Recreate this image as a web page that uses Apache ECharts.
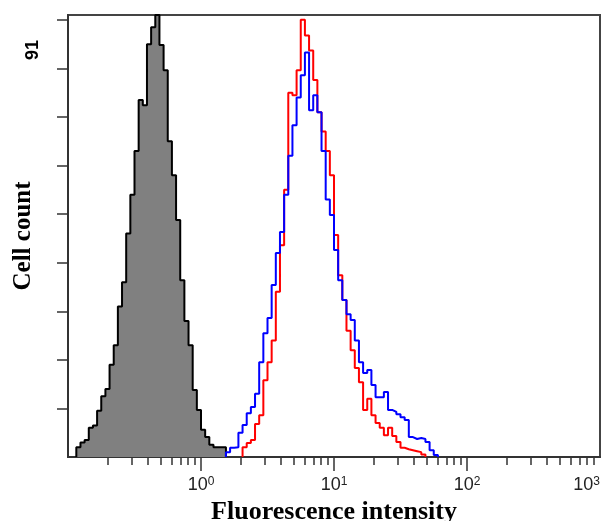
<!DOCTYPE html>
<html>
<head>
<meta charset="utf-8">
<script src="https://cdn.jsdelivr.net/npm/echarts@6/dist/echarts.min.js"></script>
<style>html,body{margin:0;padding:0;background:#fff}#c{width:603px;height:521px}</style>
</head>
<body>
<div id="c"></div>
<script>
// Histogram bins: width in decades and the exponent of the left edge of bin 0
const binWidth = 1 / 32;
const binStartExp = -0.9375;

// Gray (control) histogram, starts at bin 0
const grayStartBin = 0;
const grayCounts = [2, 3, 3.5, 6, 6.5, 9.5, 12.5, 14, 19, 23, 31, 36, 46, 54, 63, 73.5, 72.4, 85, 88.5, 91,
  84.8, 79.6, 65, 58, 48.8, 36.4, 28, 23, 13.8, 9.7, 5.6, 4.1, 2.5, 2, 2, 2];

// Red histogram, starts at bin 40
const redStartBin = 40;
const redCounts = [2, 2.9, 3.5, 6.8, 8.6, 15.8, 19.5, 24, 34, 43.6, 55, 75, 74.5, 79.6, 90, 86.8, 83.7, 77.6, 71, 67,
  63, 58, 45.7, 37.4, 32.3, 26, 22, 18.3, 15.4, 9.7, 12, 8.6, 7, 6, 4.5, 6, 4.3, 3.1, 1.9, 1.6, 1.4, 1.2, 1, 0.5];

// Blue histogram, starts at bin 36
const blueStartBin = 36;
const blueCounts = [1, 1.9, 2, 5, 6.6, 9, 10.3, 13, 19.5, 25.5, 28.6, 35.4, 42, 46.3, 54, 62, 68.3, 74, 78.6, 83.3,
  71.4, 74.5, 71, 63, 53, 49.8, 42.6, 36.4, 32.3, 29.4, 28.2, 24, 19.5, 17.3, 17.9, 14.8, 12.3, 12.3, 13.4, 9.7,
  9.3, 8.8, 8.2, 7.6, 4.1, 3.7, 3.9, 3.7, 3.1, 1.4, 0.4];

// Axes
const xMin = 0.1, xMax = 1000;
const yMin = 0, yMax = 91;
const xMajorTicks = [1, 10, 100];
const xLabelValues = [1, 10, 100, 1000];
const xMinorTicks = [];
[0.1, 1, 10, 100].forEach(d => { for (let k = 2; k <= 9; k++) xMinorTicks.push(d * k); });
const yTicks = [10, 20, 30, 40, 50, 60, 70, 80, 90];
const yMaxLabel = '91';

function toSteps(startBin, counts) {
  const e0 = binStartExp + startBin * binWidth;
  const pts = [[Math.pow(10, e0), 0]];
  counts.forEach((c, i) => pts.push([Math.pow(10, e0 + i * binWidth), c]));
  pts.push([Math.pow(10, e0 + counts.length * binWidth), 0]);
  return pts;
}

const chart = echarts.init(document.getElementById('c'), null, {renderer: 'canvas'});
const axisColor = '#333';
chart.setOption({
  animation: false,
  grid: {left: 68, right: 3, top: 15, bottom: 64, show: true, borderColor: '#444', borderWidth: 2,
    containLabel: false, outerBoundsMode: 'none'},
  xAxis: [{
    type: 'log', logBase: 10, min: xMin, max: xMax, position: 'bottom', offset: 0,
    axisLine: {show: true, lineStyle: {color: axisColor, width: 2}},
    axisTick: {show: true, length: 14, customValues: xMajorTicks, lineStyle: {color: axisColor, width: 1.5}},
    minorTick: {show: false},
    splitLine: {show: false},
    axisLabel: {
      show: true, margin: 19, customValues: xLabelValues, alignMaxLabel: 'right',
      formatter: v => '{b|10}{s|' + Math.round(Math.log10(v)) + '}',
      rich: {
        b: {fontSize: 18, fontFamily: 'Liberation Sans', color: '#222', lineHeight: 18},
        s: {fontSize: 12, fontFamily: 'Liberation Sans', color: '#222', verticalAlign: 'top', lineHeight: 12}
      }
    },
    name: 'Fluorescence intensity', nameLocation: 'middle', nameGap: 37,
    nameTextStyle: {fontFamily: 'Liberation Serif', fontWeight: 'bold', fontSize: 26, color: '#000'}
  }, {
    type: 'log', logBase: 10, min: xMin, max: xMax, position: 'bottom', offset: 0,
    axisLine: {show: false},
    axisTick: {show: true, length: 8, customValues: xMinorTicks, lineStyle: {color: axisColor, width: 1.5}},
    axisLabel: {show: false},
    splitLine: {show: false}
  }],
  yAxis: {
    type: 'value', min: yMin, max: yMax,
    axisLine: {show: true, lineStyle: {color: axisColor, width: 2}},
    axisTick: {show: true, length: 11, customValues: yTicks, lineStyle: {color: axisColor, width: 1.5}},
    axisLabel: {show: false},
    splitLine: {show: false},
    name: 'Cell count', nameLocation: 'middle', nameGap: 32,
    nameTextStyle: {fontFamily: 'Liberation Serif', fontWeight: 'bold', fontSize: 25, color: '#000'}
  },
  graphic: [{
    type: 'text', x: 33, y: 50, rotation: Math.PI / 2,
    style: {text: yMaxLabel, fontFamily: 'Liberation Sans', fontWeight: 'bold', fontSize: 18, fill: '#000',
      align: 'center', verticalAlign: 'middle'}
  }],
  series: [{
    type: 'line', step: 'end', data: toSteps(grayStartBin, grayCounts), symbol: 'none',
    lineStyle: {color: '#000', width: 2}, areaStyle: {color: '#808080', opacity: 1}, z: 2
  }, {
    type: 'line', step: 'end', data: toSteps(redStartBin, redCounts), symbol: 'none',
    lineStyle: {color: '#ff0000', width: 2}, z: 3
  }, {
    type: 'line', step: 'end', data: toSteps(blueStartBin, blueCounts), symbol: 'none',
    lineStyle: {color: '#0000ff', width: 2}, z: 4
  }]
});
</script>
</body>
</html>
